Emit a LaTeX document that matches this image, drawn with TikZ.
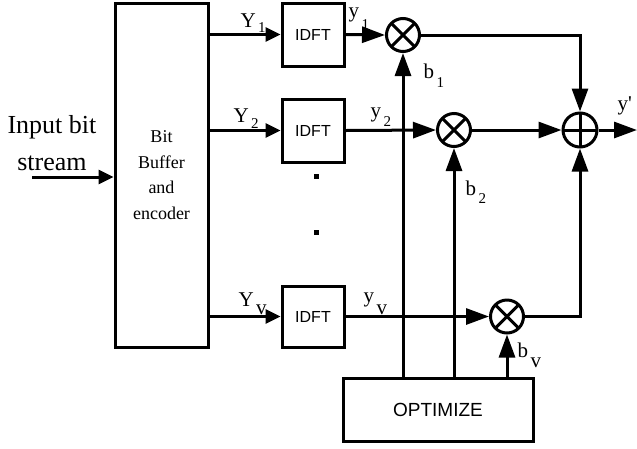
\documentclass[tikz,border=0pt]{standalone}
\usepackage{fontspec}
\setmainfont{Liberation Serif}
\setsansfont{Liberation Sans}
\usetikzlibrary{arrows.meta}

\newcommand{\subtxt}[3][8pt]{\kern2.5pt\raisebox{-#1}{\fontsize{#2}{#2}\selectfont #3}}

\tikzset{
    block/.style={draw, rectangle, inner sep=0pt, font=\sffamily\fontsize{16}{16}\selectfont},
    mult/.style={draw, circle, minimum size=33pt, inner sep=0pt,
        path picture={\draw (path picture bounding box.north west) -- (path picture bounding box.south east)
            (path picture bounding box.north east) -- (path picture bounding box.south west);}},
    adder/.style={draw, circle, minimum size=34pt, inner sep=0pt,
        path picture={\draw (path picture bounding box.north) -- (path picture bounding box.south)
            (path picture bounding box.west) -- (path picture bounding box.east);}},
    bigarrow/.style={-{Triangle[length=23pt,width=16pt]}},
    smallarrow/.style={-{Triangle[length=15pt,width=14pt]}},
    lbl/.style={anchor=base west, inner sep=0pt, font=\fontsize{21}{21}\selectfont},
    dotsq/.style={fill, rectangle, minimum size=5pt, inner sep=0pt}
}

\begin{document}
\begin{tikzpicture}[x=1pt, y=-1pt, line width=3pt]
    \useasboundingbox (0,0) rectangle (637,448);

    % Encoder
    \node[block, minimum width=93pt, minimum height=344pt, align=center,
        font=\fontsize{18}{25.5}\selectfont] (enc) at (161.5,175) {Bit\\Buffer\\and\\encoder};
    \node[align=center, font=\fontsize{26}{37}\selectfont] (intext) at (52,143) {Input bit\\stream};
    \coordinate (in) at (32,177);
    \draw[smallarrow] (in) -- (in -| enc.west);

    % IDFT blocks
    \node[block, minimum width=62pt, minimum height=63pt] (idft1) at (313,34.5) {IDFT};
    \node[block, minimum width=62pt, minimum height=63pt] (idft2) at (313,130.5) {IDFT};
    \node[block, minimum width=62pt, minimum height=61pt] (idftv) at (313,316.5) {IDFT};
    \node[dotsq] (dot1) at (316,176) {};
    \node[dotsq] (dot2) at (316,232) {};

    % Multipliers, adder, optimizer
    \node[mult] (m1) at (403,35) {};
    \node[mult] (m2) at (454,130) {};
    \node[mult] (mv) at (507,316.5) {};
    \node[adder] (add) at (580,130) {};
    \node[block, minimum width=190pt, minimum height=63pt,
        font=\sffamily\fontsize{19}{19}\selectfont] (opt) at (438,409.5) {OPTIMIZE};
    \coordinate (out) at (637,130);

    % Connections
    \draw[smallarrow] (enc.east |- idft1) -- (idft1.west);
    \draw[smallarrow] (enc.east |- idft2) -- (idft2.west);
    \draw[smallarrow] (enc.east |- idftv) -- (idftv.west);
    \draw[bigarrow] (idft1.east) -- (m1.west);
    \draw[bigarrow] (idft2.east) -- (m2.west);
    \draw[bigarrow] (idftv.east) -- (mv.west);
    \draw[bigarrow] (m1 |- opt.north) -- (m1.south);
    \draw[bigarrow] (m2 |- opt.north) -- (m2.south);
    \draw[bigarrow] (mv |- opt.north) -- (mv.south);
    \draw[bigarrow] (m1.east) -- (m1 -| add) -- (add.north);
    \draw[bigarrow] (m2.east) -- (add.west);
    \draw[bigarrow] (mv.east) -- (mv -| add) -- (add.south);
    \draw[bigarrow] (add.east) -- (out);

    % Labels
    \node[lbl] (labY1) at (239,27) {Y\subtxt[5pt]{15}{1}};
    \node[lbl] (labY2) at (232,122) {Y\subtxt[6pt]{15}{2}};
    \node[lbl] (labYv) at (237,306) {Y\subtxt[8pt]{21}{v}};
    \node[lbl] (laby1) at (347,17.5) {y\subtxt[12pt]{15}{1}};
    \node[lbl] (laby2) at (369,117.5) {y\subtxt[9pt]{15}{2}};
    \node[lbl] (labyv) at (362,302) {y\subtxt[12pt]{21}{v}};
    \node[lbl] (labb1) at (422,78) {b\subtxt[9pt]{15}{1}};
    \node[lbl] (labb2) at (464,195) {b\subtxt[8pt]{15}{2}};
    \node[lbl] (labbv) at (516,357) {b\subtxt[10pt]{21}{v}};
    \node[lbl] (labout) at (616,110) {y\textquotesingle};
\end{tikzpicture}
\end{document}
